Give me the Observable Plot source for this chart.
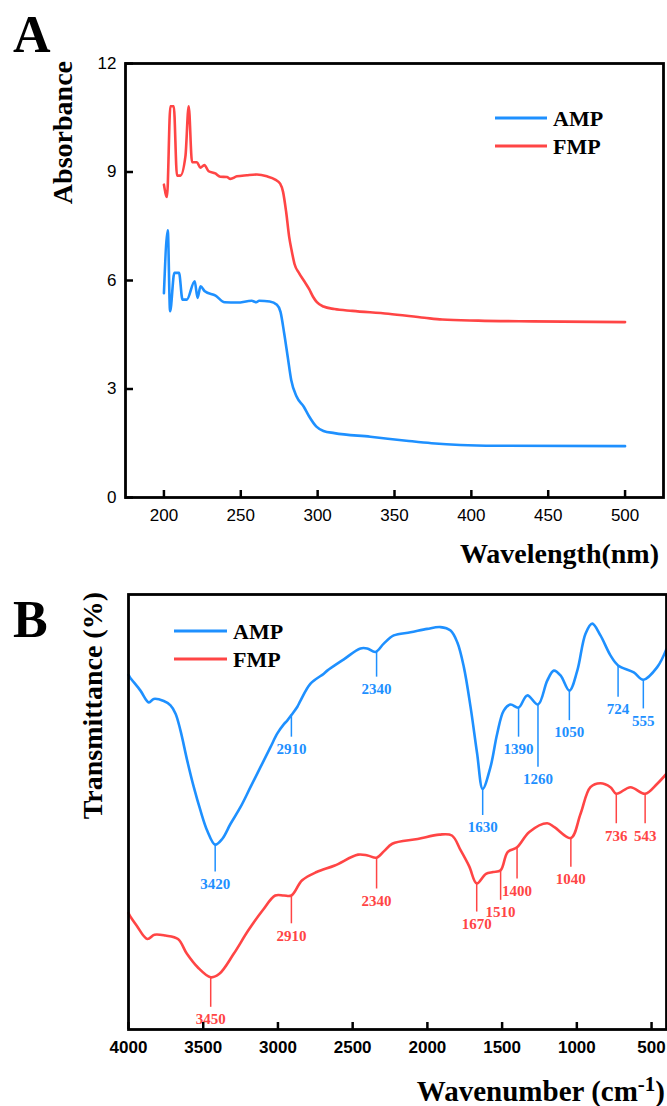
<!DOCTYPE html>
<html><head><meta charset="utf-8">
<script src="https://cdn.jsdelivr.net/npm/d3@7"></script>
<script src="https://cdn.jsdelivr.net/npm/@observablehq/plot@0.6"></script>
<style>
html,body{margin:0;padding:0;background:#fff;}
#wrap{position:relative;width:667px;height:1106px;overflow:hidden;background:#fff;}
#a{position:absolute;left:0;top:0;}
#b{position:absolute;left:0;top:580px;}
#overlay{position:absolute;left:0;top:0;pointer-events:none;}
</style></head>
<body>
<div id="wrap"><div id="a"></div><div id="b"></div>
<svg id="overlay" width="667" height="1106"></svg></div>
<script>
// ---------- data ----------
const series = ["AMP", "FMP"];
const colors = ["#1e90ff", "#ff4545"];

// Panel A: UV absorbance
const uvAmpWl  = [200,202.5,204,206.8,209.8,212.1,214.9,220,221.9,223.8,226.6,233.6,239.5,247.7,257.1,260,262,268.8,273.5,275.8,278.2,280.5,282.8,286.3,291,294.5,299.2,303.8,310.9,334.3,357.7,374.1,392.8,416.1,500];
const uvAmpAbs = [5.65,7.39,5.15,6.21,6.21,5.47,5.47,5.98,5.52,5.84,5.70,5.58,5.40,5.39,5.44,5.40,5.44,5.42,5.33,5.14,4.55,3.9,3.25,2.79,2.51,2.24,1.96,1.84,1.78,1.68,1.57,1.50,1.45,1.43,1.42];
const uvFmpWl  = [200,202,204.2,206.4,208.5,210.7,214,216.1,218.3,221.5,223.7,226.3,229.1,233.4,236.7,241,243.2,247.5,254,260.5,267,272.4,275.6,277.5,279.5,281.5,283,285,288,291,294.5,297,299.5,303.8,310.9,322.6,346,369.4,381,404.5,439.6,500];
const uvFmpAbs = [8.65,8.31,10.82,10.82,8.9,8.9,9.44,10.82,9.27,9.27,9.12,9.19,9.02,8.96,8.87,8.86,8.81,8.88,8.91,8.93,8.88,8.79,8.68,8.45,7.9,7.2,6.85,6.45,6.2,6.0,5.76,5.55,5.4,5.28,5.21,5.16,5.08,4.97,4.92,4.89,4.87,4.85];
const uvXTicks = [200,250,300,350,400,450,500];
const uvYTicks = [0,3,6,9,12];

// Panel B: FTIR transmittance
const irAmpWn = [4000,3991,3920,3864,3831,3764,3719,3685,3652,3607,3563,3518,3473,3420,3373,3317,3251,3184,3117,3050,3005,2960,2938,2910,2870,2849,2782,2693,2670,2559,2448,2403,2347,2292,2225,2113,2001,1912,1845,1800,1756,1711,1667,1630,1578,1533,1489,1444,1390,1332,1260,1198,1154,1109,1050,997,942,897,842,775,724,619,555,462,400];
const irAmpT  = [81.5,81.0,77.9,75.2,76.0,75.5,74.5,72.6,68.7,61.8,55.7,50.3,45.7,42.5,43.8,47.3,51.1,55.7,60.3,64.9,68.0,70.2,71.0,72.3,74.2,75.6,79.5,81.8,82.5,85.1,87.6,87.6,86.8,88.7,90.6,91.3,92.1,92.5,91.7,89.0,83.3,74.1,63.4,55.3,60.3,68.0,73.3,74.7,74.0,76.8,74.7,80.2,82.5,81.4,77.9,82.5,91.0,93.3,90.6,86.0,83.7,82.1,80.4,83.3,87.5];
const irFmpWn = [4000,3995,3946,3874,3826,3753,3669,3609,3537,3450,3392,3296,3198,3102,3018,2960,2910,2838,2741,2620,2464,2400,2340,2290,2235,2065,1920,1836,1776,1720,1670,1608,1560,1510,1463,1400,1318,1198,1150,1040,975,909,842,775,736,641,543,462,400];
const irFmpT  = [26.8,26.4,23.9,20.8,21.8,21.6,20.8,17.4,14.3,12.0,12.8,17.4,22.8,27.4,30.8,30.8,30.8,34.3,36.2,37.7,40.2,40.0,39.5,41.0,42.7,43.8,44.8,44.6,41.1,37.5,33.6,35.8,36.2,36.6,40.8,41.9,45.4,47.4,46.5,44.0,49.6,55.7,56.6,55.7,54.2,55.7,54.2,56.5,58.8];
const irXTicks = [4000,3500,3000,2500,2000,1500,1000,500];

// peak annotations: wavenumber, transmittance at the peak, transmittance at the end of the marker
const ampPeakWn  = [3420,2910,2340,1630,1390,1260,1050,724,555];
const ampPeakT   = [42.5,72.3,86.8,55.3,74.0,74.7,77.9,83.7,80.4];
const ampMarkEnd = [36.2,67.2,81.0,49.2,67.2,60.3,71.0,76.4,73.7];
const fmpPeakWn  = [3450,2910,2340,1670,1510,1400,1040,736,543];
const fmpPeakT   = [12.0,30.8,39.5,33.6,36.6,41.9,44.0,54.2,54.2];
const fmpMarkEnd = [5.1,24.3,32.3,27.0,29.7,34.6,37.3,47.3,47.3];

// ---------- build ----------
const zip = (s, xs, ys) => xs.map((x, i) => ({s, x, y: ys[i]}));
const uvRows = [...zip("AMP", uvAmpWl, uvAmpAbs), ...zip("FMP", uvFmpWl, uvFmpAbs)];
const irRows = [...zip("AMP", irAmpWn, irAmpT), ...zip("FMP", irFmpWn, irFmpT)];
const peaks = (s, wn, t, e) => wn.map((w, i) => ({s, wn: w, tip: t[i], end: e[i]}));
const ampPeaks = peaks("AMP", ampPeakWn, ampPeakT, ampMarkEnd);
const fmpPeaks = peaks("FMP", fmpPeakWn, fmpPeakT, fmpMarkEnd);

const SANS = "'Liberation Sans', Arial, sans-serif";
const SERIF = "'Liberation Serif', 'Times New Roman', serif";
const fmt = d => String(d);

const hA = 580, mTA = 63, mBA = 83, mLA = 125, mRA = 4;
const fhA = hA - mTA - mBA, fwA = 667 - mLA - mRA;
const plotA = Plot.plot({
  width: 667, height: hA,
  marginLeft: mLA, marginRight: mRA, marginTop: mTA, marginBottom: mBA,
  x: {domain: [175, 525]},
  y: {domain: [0, 12]},
  color: {domain: series, range: colors},
  style: {fontFamily: SANS, fontSize: "17px", color: "black", background: "white", overflow: "visible"},
  marks: [
    Plot.line(uvRows, {x: "x", y: "y", z: "s", stroke: "s", strokeWidth: 2.6, strokeLinejoin: "round", curve: "monotone-x"}),
    Plot.ruleX(uvXTicks, {x: d => d, insetTop: fhA - 7, strokeWidth: 2.5}),
    Plot.ruleY(uvYTicks, {y: d => d, insetRight: fwA - 8, strokeWidth: 2.5}),
    Plot.frame({stroke: "black", strokeWidth: 2.8}),
    Plot.axisX(uvXTicks, {tickSize: 0, tickPadding: 11, label: null, fontSize: 17, tickFormat: fmt}),
    Plot.axisY(uvYTicks, {tickSize: 0, tickPadding: 9, label: null, fontSize: 17, tickFormat: fmt})
  ]
});
document.getElementById("a").appendChild(plotA);

const hB = 526, mTB = 14, mBB = 77, mLB = 128, mRB = 1;
const fhB = hB - mTB - mBB;
const lblStyle = {fontFamily: SERIF, fontWeight: "bold", fontSize: 15};
const plotB = Plot.plot({
  width: 667, height: hB,
  marginLeft: mLB, marginRight: mRB, marginTop: mTB, marginBottom: mBB,
  x: {domain: [4000, 400]},
  y: {domain: [0, 100], axis: null},
  color: {domain: series, range: colors},
  style: {fontFamily: SANS, fontSize: "17px", color: "black", background: "white", overflow: "visible"},
  marks: [
    Plot.line(irRows, {x: "x", y: "y", z: "s", stroke: "s", strokeWidth: 2.6, strokeLinejoin: "round", curve: "catmull-rom"}),
    Plot.ruleX(ampPeaks, {x: "wn", y1: "tip", y2: "end", stroke: colors[0], strokeWidth: 1.5}),
    Plot.ruleX(fmpPeaks, {x: "wn", y1: "tip", y2: "end", stroke: colors[1], strokeWidth: 1.5}),
    Plot.text(ampPeaks, {x: "wn", y: "end", text: d => String(d.wn), dy: 12, fill: colors[0], ...lblStyle}),
    Plot.text(fmpPeaks, {x: "wn", y: "end", text: d => String(d.wn), dy: 12, fill: colors[1], ...lblStyle}),
    Plot.ruleX(irXTicks, {x: d => d, insetTop: fhB - 7, strokeWidth: 2.5}),
    Plot.frame({stroke: "black", strokeWidth: 2.8}),
    Plot.axisX(irXTicks, {tickSize: 0, tickPadding: 11, label: null, fontSize: 17, fontWeight: "bold", tickFormat: fmt})
  ]
});
document.getElementById("b").appendChild(plotB);

// ---------- titles, panel letters, legends ----------
const ov = d3.select("#overlay");
const T = (x, y, txt, o = {}) => ov.append("text").attr("x", x).attr("y", y)
  .attr("font-family", o.family || SERIF).attr("font-weight", "bold")
  .attr("font-size", o.size || 28).attr("text-anchor", o.anchor || "start")
  .attr("transform", o.rot ? `rotate(-90 ${x} ${y})` : null).text(txt);

T(13, 52, "A", {size: 52});
T(13, 637, "B", {size: 52});
T(72, 61, "Absorbance", {rot: true, anchor: "end"});
T(659, 563, "Wavelength(nm)", {anchor: "end"});
T(102, 592, "Transmittance (%)", {rot: true, anchor: "end"});
const wn = ov.append("text").attr("x", 665).attr("y", 1101).attr("text-anchor", "end")
  .attr("font-family", SERIF).attr("font-weight", "bold").attr("font-size", 29);
wn.append("tspan").text("Wavenumber (cm");
wn.append("tspan").attr("font-size", 21).attr("dy", -10).text("-1");
wn.append("tspan").attr("dy", 10).text(")");

function legend(x0, x1, ys, tx) {
  series.forEach((s, i) => {
    ov.append("line").attr("x1", x0).attr("x2", x1).attr("y1", ys[i]).attr("y2", ys[i])
      .attr("stroke", colors[i]).attr("stroke-width", 3);
    T(tx, ys[i] + 8, s, {size: 22});
  });
}
legend(495, 547, [118, 146], 553);
legend(174, 227, [631, 659], 233);
</script>
</body></html>
